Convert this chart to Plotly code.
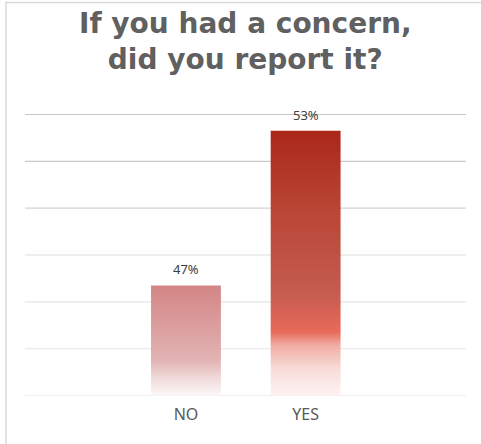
import plotly.graph_objects as go
import numpy as np

categories = ["NO", "YES"]
values = [46.7, 53.3]
labels = ["47%", "53%"]
title_lines = ["If you had a concern,", "did you report it?"]

axis_min, axis_max, axis_step = 42, 54, 2
bar_half = 0.292

gradients = [
    [[0.0, "#fdf8f8"], [0.18, "#eed5d5"], [0.32, "#e2b3b3"], [0.6, "#dca0a0"], [1.0, "#d38585"]],
    [[0.0, "#fdf4f3"], [0.1, "#f8dcd8"], [0.19, "#f0aca3"], [0.24, "#e86a5a"], [0.4, "#c35b4e"],
     [0.73, "#b84333"], [1.0, "#aa2719"]],
]

fig = go.Figure()
for i, (cat, v, g) in enumerate(zip(categories, values, gradients)):
    xs = [i - bar_half, i + bar_half, i + bar_half, i - bar_half, i - bar_half]
    ys = [axis_min, axis_min, v, v, axis_min]
    fig.add_trace(go.Scatter(
        x=xs, y=ys, mode="lines", fill="toself", line=dict(width=0),
        fillgradient=dict(type="vertical", colorscale=g, start=axis_min, stop=v),
        hoverinfo="skip", showlegend=False,
    ))
    fig.add_annotation(x=i, y=v, text=labels[i], showarrow=False, yanchor="bottom",
                       yshift=5, font=dict(family="Noto Sans", size=13, color="#404040"))

# gridlines with fading color
ticks = np.arange(axis_min, axis_max + 0.1, axis_step)
grid_colors = ["#efefef", "#ebebeb", "#e6e6e6", "#dedede", "#d4d4d4", "#cbcbcb", "#c8c8c8"]
for t, c in zip(ticks, grid_colors):
    fig.add_shape(type="line", xref="paper", x0=0, x1=1, yref="y", y0=t, y1=t,
                  line=dict(color=c, width=1.2), layer="below")

# outer border
fig.add_shape(type="rect", xref="paper", yref="paper", x0=-0.043, x1=1.3, y0=-0.5, y1=1.395,
              line=dict(color="#d9d9d9", width=1.5), fillcolor="rgba(0,0,0,0)")

# title
fig.add_annotation(xref="paper", yref="paper", x=0.5, y=1.258, xanchor="center", yanchor="middle",
                   text="<br>".join(title_lines), showarrow=False,
                   font=dict(family="DejaVu Sans", size=28, weight="bold", color="#606060"))

fig.update_layout(
    width=481, height=444,
    margin=dict(l=25, r=15, t=114, b=48),
    paper_bgcolor="white", plot_bgcolor="white",
    xaxis=dict(range=[-1.345, 2.34], tickvals=list(range(len(categories))), ticktext=categories,
               showgrid=False, zeroline=False, showline=False, ticks="", ticklabelstandoff=7,
               tickfont=dict(family="Noto Sans", size=16, color="#595959")),
    yaxis=dict(range=[axis_min - 0.02, axis_max + 0.02], showticklabels=False, showgrid=False,
               zeroline=False, showline=False, ticks=""),
)

fig.write_html("out.html", config={"displayModeBar": False},
               post_script="document.body.style.margin='0';")
